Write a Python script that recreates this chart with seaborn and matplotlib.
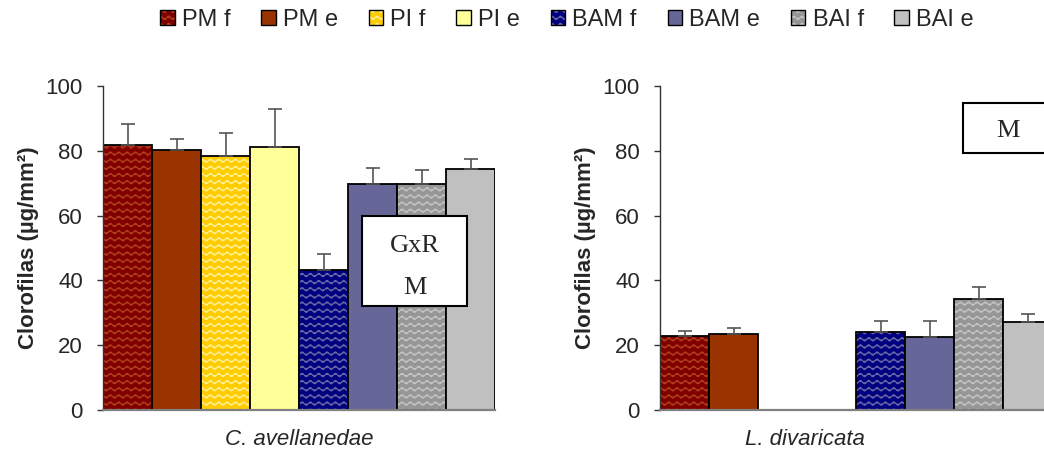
import warnings
warnings.filterwarnings("ignore")

import numpy as np
import pandas as pd
import matplotlib
matplotlib.use("Agg")
import matplotlib.pyplot as plt
import matplotlib.colors as mcolors
from matplotlib import hatch as mhatch
from matplotlib.path import Path
from matplotlib.patches import Patch, Rectangle
import seaborn as sns

# ---------------- data ----------------
treatments = ["PM f", "PM e", "PI f", "PI e", "BAM f", "BAM e", "BAI f", "BAI e"]
species = ["C. avellanedae", "L. divaricata"]

cav_values = [81.8, 80.2, 78.4, 81.2, 43.2, 69.8, 69.8, 74.3]
cav_errors = [6.6, 3.3, 7.2, 11.6, 4.9, 4.9, 4.3, 3.3]

ldi_values = [22.9, 23.5, np.nan, np.nan, 24.0, 22.6, 34.2, 27.3]
ldi_errors = [1.6, 1.9, np.nan, np.nan, 3.4, 4.8, 3.8, 2.2]

y_ticks = [0, 20, 40, 60, 80, 100]
ylabel = "Clorofilas (µg/mm²)"
cav_note = ["GxR", "M"]
ldi_note = ["M"]

# ---------------- style ----------------
face_colors = ["#800000", "#993300", "#ffcc00", "#ffff99",
               "#000080", "#666699", "#969696", "#c0c0c0"]
wave_colors = ["#b0401c", None, "#fff099", None,
               "#6a6aa8", None, "#c4c4c4", None]


class WaveHatch(mhatch.HatchPatternBase):
    """Wavy-line hatch pattern triggered by '~'."""
    ROWS = 14
    PERIODS = 12
    PTS = 8

    def __init__(self, hatch, density):
        self.num_lines = self.ROWS if "~" in hatch else 0
        self.npts = self.PERIODS * self.PTS + 1
        self.num_vertices = self.num_lines * self.npts

    def set_vertices_and_codes(self, vertices, codes):
        xs = np.linspace(0.0, 1.0, self.npts)
        wav = 0.017 * np.sin(2 * np.pi * self.PERIODS * xs)
        for i in range(self.num_lines):
            sl = slice(i * self.npts, (i + 1) * self.npts)
            vertices[sl, 0] = xs
            vertices[sl, 1] = (i + 0.5) / self.num_lines + wav
            codes[sl] = Path.LINETO
            codes[i * self.npts] = Path.MOVETO


mhatch._hatch_types.append(WaveHatch)

sns.set_style("white")
plt.rcParams["font.family"] = ["Liberation Sans", "DejaVu Sans"]
plt.rcParams["hatch.linewidth"] = 0.8

fig = plt.figure(figsize=(10.44, 4.54), dpi=100)
ax_l = fig.add_axes([103 / 1044, 1 - 410 / 454, 392 / 1044, 324 / 454])
ax_r = fig.add_axes([660 / 1044, 1 - 410 / 454, 392 / 1044, 324 / 454])

palette = dict(zip(treatments, face_colors))


def draw_panel(ax, name, values, errors):
    df = pd.DataFrame({"trat": treatments, "val": values})
    sns.barplot(data=df, x="trat", y="val", hue="trat", order=treatments,
                hue_order=treatments, palette=palette, width=1.0,
                saturation=1, legend=False, errorbar=None,
                edgecolor="black", linewidth=1.3, ax=ax)
    for p in ax.patches:
        idx = int(round(p.get_x() + p.get_width() / 2))
        if wave_colors[idx] is not None:
            p.set_hatch("~")
            p._hatch_color = mcolors.to_rgba(wave_colors[idx])
            p.stale = True
    pos = np.arange(len(treatments))
    vals = np.asarray(values, dtype=float)
    errs = np.asarray(errors, dtype=float)
    ax.errorbar(pos, vals, yerr=[np.zeros_like(errs), errs], fmt="none",
                ecolor="#555555", elinewidth=1.2, capsize=5, capthick=1.2,
                zorder=1)
    ax.set_xlim(-0.5, len(treatments) - 0.5)
    ax.set_ylim(0, 100)
    ax.set_yticks(y_ticks)
    ax.set_xticks([])
    ax.tick_params(axis="y", direction="out", length=4.5, width=1,
                   color="#333333", pad=10, labelsize=16, left=True)
    for s in ["top", "right"]:
        ax.spines[s].set_visible(False)
    ax.spines["left"].set_color("#333333")
    ax.spines["left"].set_linewidth(1.0)
    ax.spines["bottom"].set_color("#808080")
    ax.spines["bottom"].set_linewidth(1.6)
    ax.set_ylabel(ylabel, fontsize=16, fontweight="bold")
    ax.yaxis.set_label_coords(-0.162, 0.5)
    ax.set_xlabel(name, fontsize=16, fontstyle="italic")


draw_panel(ax_l, species[0], cav_values, cav_errors)
draw_panel(ax_r, species[1], ldi_values, ldi_errors)
ax_l.xaxis.set_label_coords(0.5, -0.058)
ax_r.xaxis.set_label_coords(0.37, -0.058)

# annotation boxes
ax_l.add_patch(Rectangle((0.661, 0.321), 0.268, 0.278, transform=ax_l.transAxes,
                         facecolor="white", edgecolor="black", linewidth=1.5,
                         zorder=5, clip_on=False))
ax_l.text(0.795, 0.505, cav_note[0], transform=ax_l.transAxes, ha="center",
          va="center", fontsize=19, family="Liberation Serif", zorder=6)
ax_l.text(0.795, 0.375, cav_note[1], transform=ax_l.transAxes, ha="center",
          va="center", fontsize=19, family="Liberation Serif", zorder=6)

ax_r.add_patch(Rectangle((0.773, 0.793), 0.235, 0.155, transform=ax_r.transAxes,
                         facecolor="white", edgecolor="black", linewidth=1.5,
                         zorder=5, clip_on=False))
ax_r.text(0.888, 0.862, ldi_note[0], transform=ax_r.transAxes, ha="center",
          va="center", fontsize=19, family="Liberation Serif", zorder=6)

# legend
handles = [Patch(facecolor=fc, edgecolor="black", linewidth=1.0,
                 hatch="~" if wc is not None else None)
           for fc, wc in zip(face_colors, wave_colors)]
leg = fig.legend(handles, treatments, loc="upper center",
                 bbox_to_anchor=(0.543, 1.028), ncol=8, frameon=False,
                 fontsize=17, handlelength=0.62, handleheight=0.62,
                 handletextpad=0.3, columnspacing=1.3)
for lp, wc in zip(leg.get_patches(), wave_colors):
    if wc is not None:
        lp._hatch_color = mcolors.to_rgba(wc)
        lp.stale = True

fig.savefig("out.png", dpi=100)
